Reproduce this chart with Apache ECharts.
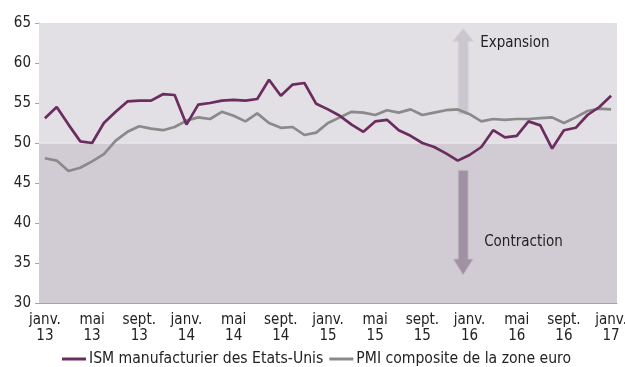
<!DOCTYPE html>
<html>
<head>
<meta charset="utf-8">
<script src="https://cdn.jsdelivr.net/npm/echarts@6/dist/echarts.min.js"></script>
<style>
  html, body { margin: 0; padding: 0; background: #ffffff; }
  #chart { width: 625px; height: 367px; }
</style>
</head>
<body>
<div id="chart"></div>
<script>
// Monthly index values, January 2013 to January 2017
const monthNames = ['janv.', 'févr.', 'mars', 'avr.', 'mai', 'juin', 'juil.', 'août', 'sept.', 'oct.', 'nov.', 'déc.'];
const years = ['13', '14', '15', '16', '17'];

const ismUS = [
  53.1, 54.5, 52.3, 50.2, 50.0, 52.5, 53.9, 55.2, 55.3, 55.3, 56.1, 56.0,
  52.3, 54.8, 55.0, 55.3, 55.4, 55.3, 55.5, 57.9, 55.9, 57.3, 57.5, 54.9,
  54.2, 53.4, 52.3, 51.4, 52.7, 52.9, 51.6, 50.9, 50.0, 49.5, 48.7, 47.8,
  48.5, 49.5, 51.6, 50.7, 50.9, 52.7, 52.2, 49.3, 51.6, 51.9, 53.5, 54.5,
  55.9
];

const pmiEuro = [
  48.1, 47.8, 46.5, 46.9, 47.7, 48.6, 50.3, 51.4, 52.1, 51.8, 51.6, 52.0,
  52.8, 53.2, 53.0, 53.9, 53.4, 52.7, 53.7, 52.5, 51.9, 52.0, 51.0, 51.3,
  52.5, 53.2, 53.9, 53.8, 53.5, 54.1, 53.8, 54.2, 53.5, 53.8, 54.1, 54.2,
  53.6, 52.7, 53.0, 52.9, 53.0, 53.0, 53.1, 53.2, 52.5, 53.2, 54.0, 54.3,
  54.2
];

const yTicks = { min: 30, max: 65, step: 5, threshold: 50 };

// Category labels "mois.\naa"
const categories = [];
years.forEach((y) => {
  monthNames.forEach(m => {
    if (categories.length < ismUS.length) categories.push(m + '\n' + y);
  });
});

const FONT = '"Liberation Sans Narrow", "DejaVu Sans Condensed", "Open Sans", sans-serif';
const PURPLE = '#6b2c60';
const GREY = '#8a8a8a';

const chart = echarts.init(document.getElementById('chart'), null, { renderer: 'canvas' });

const option = {
  animation: false,
  backgroundColor: '#ffffff',
  grid: { left: 39, right: 8, top: 23, bottom: 64, containLabel: false, outerBoundsMode: 'none' },
  textStyle: { fontFamily: FONT },
  legend: {
    top: 346,
    left: 57,
    itemWidth: 24,
    itemHeight: 3,
    itemGap: 6,
    icon: 'rect',
    textStyle: { fontFamily: FONT, fontSize: 15.6, color: '#222222', padding: [0, 0, 0, -2] },
    data: [
      { name: 'ISM manufacturier des Etats-Unis', itemStyle: { color: PURPLE } },
      { name: 'PMI composite de la zone euro', itemStyle: { color: GREY } }
    ]
  },
  xAxis: {
    type: 'category',
    data: categories,
    boundaryGap: true,
    axisLine: { lineStyle: { color: '#a6a6a6', width: 1 } },
    axisTick: { interval: 3, length: 4, lineStyle: { color: '#a6a6a6' } },
    axisLabel: {
      interval: 3,
      color: '#222222',
      fontFamily: FONT,
      fontSize: 15,
      lineHeight: 16,
      margin: 9
    },
    splitLine: { show: false }
  },
  yAxis: {
    type: 'value',
    min: yTicks.min,
    max: yTicks.max,
    interval: yTicks.step,
    axisLine: { show: true, lineStyle: { color: '#a6a6a6', width: 1 } },
    axisTick: { show: true, length: 4, lineStyle: { color: '#a6a6a6' } },
    axisLabel: { color: '#222222', fontFamily: FONT, fontSize: 15, margin: 8 },
    splitLine: { show: false }
  },
  series: [
    {
      // background bands: expansion above 50, contraction below
      name: 'zones',
      type: 'line',
      data: [],
      z: 0,
      silent: true,
      markArea: {
        silent: true,
        data: [
          [{ yAxis: yTicks.threshold, itemStyle: { color: '#e2dfe5' } }, { yAxis: yTicks.max }],
          [{ yAxis: yTicks.min, itemStyle: { color: '#d1ccd3' } }, { yAxis: yTicks.threshold }]
        ]
      },
      markLine: {
        silent: true,
        symbol: 'none',
        label: { show: false },
        lineStyle: { color: '#e9e7ec', width: 1.5, type: 'solid' },
        data: [{ yAxis: yTicks.threshold }]
      }
    },
    {
      name: 'PMI composite de la zone euro',
      type: 'line',
      data: pmiEuro,
      z: 10,
      symbol: 'none',
      lineStyle: { color: GREY, width: 2.7 },
      itemStyle: { color: GREY }
    },
    {
      name: 'ISM manufacturier des Etats-Unis',
      type: 'line',
      data: ismUS,
      z: 11,
      symbol: 'none',
      lineStyle: { color: PURPLE, width: 2.7 },
      itemStyle: { color: PURPLE }
    }
  ]
};

chart.setOption(option);

// Annotation arrows and captions, anchored to the plot coordinates
const px = (i, v) => chart.convertToPixel({ gridIndex: 0 }, [i, v]);
const ax = (px(35, 50)[0] + px(36, 50)[0]) / 2 - 0.5;
const upTop = px(0, 64.3)[1], upHeadBase = px(0, 62.7)[1], upBottom = px(0, 53.6)[1];
const dnTop = px(0, 46.6)[1], dnHeadBase = px(0, 35.5)[1], dnTip = px(0, 33.5)[1];

function arrowPoints(x, shaftTop, shaftBottom, headBase, tip, shaftHalf, headHalf, up) {
  if (up) {
    return [
      [x, tip], [x + headHalf, headBase], [x + shaftHalf, headBase], [x + shaftHalf, shaftBottom],
      [x - shaftHalf, shaftBottom], [x - shaftHalf, headBase], [x - headHalf, headBase]
    ];
  }
  return [
    [x - shaftHalf, shaftTop], [x + shaftHalf, shaftTop], [x + shaftHalf, headBase],
    [x + headHalf, headBase], [x, tip], [x - headHalf, headBase], [x - shaftHalf, headBase]
  ];
}

chart.setOption({
  graphic: [
    {
      type: 'polygon',
      z: 5,
      silent: true,
      shape: { points: arrowPoints(ax, 0, upBottom, upHeadBase, upTop, 5, 10.5, true) },
      style: { fill: '#cbc6cf', stroke: '#d8d4db', lineWidth: 1 }
    },
    {
      type: 'polygon',
      z: 5,
      silent: true,
      shape: { points: arrowPoints(ax, dnTop, 0, dnHeadBase, dnTip, 5, 10, false) },
      style: { fill: '#a092a4', stroke: '#c4bcc6', lineWidth: 1 }
    },
    {
      type: 'text',
      z: 6,
      silent: true,
      left: ax + 17,
      top: px(0, 62.8)[1] - 5,
      style: { text: 'Expansion', font: '15px ' + FONT, fill: '#222222' }
    },
    {
      type: 'text',
      z: 6,
      silent: true,
      left: ax + 21,
      top: px(0, 38.2)[1] - 3,
      style: { text: 'Contraction', font: '15px ' + FONT, fill: '#222222' }
    }
  ]
});
</script>
</body>
</html>
